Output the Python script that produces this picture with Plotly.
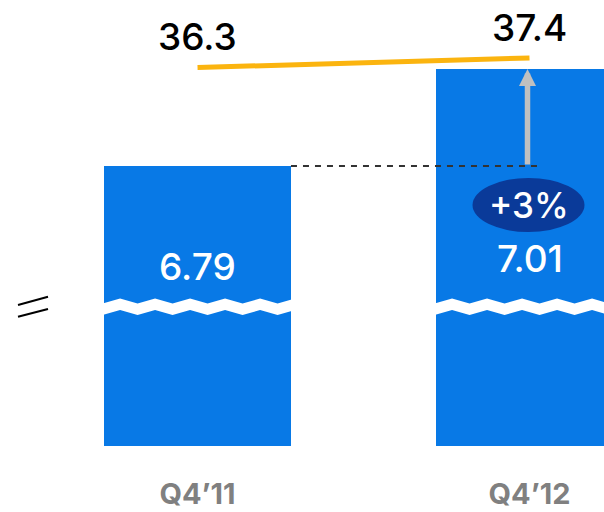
import plotly.graph_objects as go

# Quarterly comparison: bar values (broken axis) and the line series above them
quarters = ["Q4’11", "Q4’12"]
bar_values = [6.79, 7.01]
line_values = [36.3, 37.4]

BLUE = "#0879E6"
NAVY = "#0A3A99"
YELLOW = "#FBB40F"
GREY_ARROW = "#C0C0C0"
GREY_TEXT = "#808080"
FONT = "Inter"

W, H = 604, 512
MB = 66
PLOT_H = H - MB

BAR_W = 0.563
X_RANGE = [-0.595, 1.2244]
Y_RANGE = [6.155, 7.1665]          # axis is broken: bars start below the visible window
Y2_RANGE = [-7.53, 44.116]

fig = go.Figure()

fig.add_trace(go.Bar(
    x=quarters, y=bar_values, width=BAR_W,
    marker=dict(color=BLUE, line=dict(width=0)),
    hoverinfo="skip", showlegend=False,
))

fig.add_trace(go.Scatter(
    x=quarters, y=line_values, yaxis="y2", mode="lines",
    line=dict(color=YELLOW, width=5),
    hoverinfo="skip", showlegend=False,
))

# helpers for pixel based decorations
x_span = X_RANGE[1] - X_RANGE[0]
px_x = x_span / W                      # data units per pixel horizontally


def py(pix):
    """pixel row (from top of plot area) -> paper y"""
    return 1 - pix / PLOT_H


shapes = []
annotations = []

# zig-zag break through every bar
period = 35 * px_x
half = period / 2
for i, _ in enumerate(quarters):
    right = i + BAR_W / 2 + 4 * px_x
    top_pts, bot_pts = [], []
    xk = i - BAR_W / 2 + 16 * px_x - 2 * period
    k = 0
    while xk <= right + period:
        peak = (k % 2 == 0)
        top_pts.append((xk, py(298.5 if peak else 303.5)))
        bot_pts.append((xk, py(310 if peak else 315)))
        xk += half
        k += 1
    pts = top_pts + bot_pts[::-1]
    path = "M " + " L ".join(f"{x:.5f},{y:.5f}" for x, y in pts) + " Z"
    shapes.append(dict(type="path", path=path, xref="x", yref="paper",
                       fillcolor="white", line=dict(width=0), layer="above"))

# dashed reference from first bar top to the second bar
shapes.append(dict(type="line", xref="x", yref="y",
                   x0=0 + BAR_W / 2, x1=1 + 8 * px_x,
                   y0=bar_values[0], y1=bar_values[0],
                   line=dict(color="#333333", width=2, dash="6px,6px"), layer="above"))

# growth bubble
growth = (bar_values[1] / bar_values[0] - 1) * 100
shapes.append(dict(type="circle", xref="x", yref="paper",
                   xsizemode="pixel", ysizemode="pixel",
                   xanchor=1, yanchor=py(205),
                   x0=-57, x1=55, y0=-27, y1=27,
                   fillcolor=NAVY, line=dict(width=0), layer="above"))
annotations.append(dict(x=1, xshift=-1, y=py(205), xref="x", yref="paper",
                        text=f"+{growth:.0f}%", showarrow=False,
                        font=dict(family=FONT, size=35, color="white", weight=500),
                        xanchor="center", yanchor="middle"))

# axis-break marker on the left
for y_a, y_b in [(305, 296.7), (316.7, 309)]:
    shapes.append(dict(type="line", xref="paper", yref="paper",
                       x0=18 / W, x1=48 / W, y0=py(y_a), y1=py(y_b),
                       line=dict(color="black", width=2)))

# growth arrow
annotations.append(dict(x=quarters[1], y=bar_values[1], xref="x", yref="y",
                        ax=quarters[1], ay=bar_values[0], axref="x", ayref="y",
                        text="", showarrow=True, arrowhead=2, arrowsize=0.62,
                        arrowwidth=5.5, arrowcolor=GREY_ARROW, xshift=-2))

# bar value labels
for i, (q, v) in enumerate(zip(quarters, bar_values)):
    annotations.append(dict(x=q, y=py([266, 258][i]), xref="x", yref="paper",
                            text=f"{v:.2f}", showarrow=False,
                            font=dict(family=FONT, size=37, color="white", weight=500),
                            xanchor="center", yanchor="middle"))

# line value labels
for i, (q, v) in enumerate(zip(quarters, line_values)):
    annotations.append(dict(x=q, y=v, xref="x", yref="y2",
                            text=f"{v:.1f}", showarrow=False, yshift=31,
                            font=dict(family=FONT, size=37, color="black", weight=500),
                            xanchor="center", yanchor="middle"))

fig.update_layout(
    width=W, height=H,
    margin=dict(l=0, r=0, t=0, b=MB),
    paper_bgcolor="white", plot_bgcolor="white",
    xaxis=dict(type="category", range=X_RANGE, showgrid=False, zeroline=False,
               showline=False, ticks="", ticklabelstandoff=28,
               tickfont=dict(family=FONT, size=29, color=GREY_TEXT, weight="bold")),
    yaxis=dict(range=Y_RANGE, visible=False, showgrid=False, zeroline=False),
    yaxis2=dict(range=Y2_RANGE, overlaying="y", visible=False,
                showgrid=False, zeroline=False),
    shapes=shapes, annotations=annotations,
    bargap=0,
)

fig.write_html("out.html")
